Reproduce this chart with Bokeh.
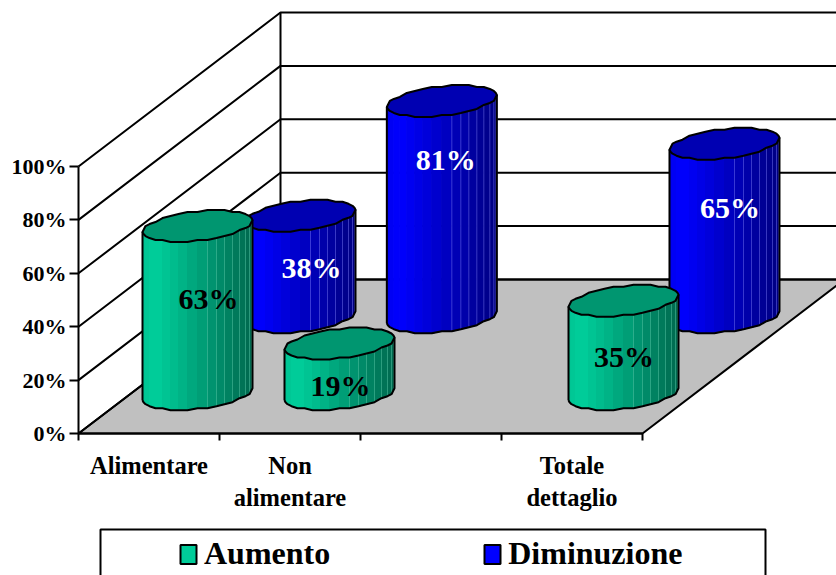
import math

from bokeh.core.properties import value
from bokeh.embed import file_html
from bokeh.models import FixedTicker, Legend, LegendItem, LinearAxis, Range1d
from bokeh.plotting import figure
from bokeh.resources import INLINE

# Survey results per retail sector; the third category slot is left empty
categories = ["Alimentare", "Non\nalimentare", "", "Totale\ndettaglio"]
aumento = [63, 19, None, 35]
diminuzione = [38, 81, None, 65]
percent_ticks = [0, 20, 40, 60, 80, 100]

# Pixel scale of the oblique 3-D box
PX_PER_CAT = 141.0
PX_PER_PCT = 2.67
LEFT_PX, FLOOR_PX = 78, 433
DEPTH_X, DEPTH_Y = 202.0, 154.0
WIDTH, HEIGHT = 836, 575

# Cylinder cross-section, expressed in pixels
RADIUS_X, SHEAR_X, RADIUS_Y = 51.0, 20.5, 15.5
N_AROUND = 36
SERIF = value("Liberation Serif")


def hex_scale(rgb, k):
    return "#%02x%02x%02x" % tuple(min(255, round(c * k)) for c in rgb)


def ellipse_pt(t):
    # Rounding keeps the slightly stepped edge of a faceted cylinder
    dx = RADIUS_X * math.cos(t) + SHEAR_X * math.sin(t)
    dy = RADIUS_Y * math.sin(t)
    return float(round(dx)), round(dy / 2.0) * 2.0


def brightness(f):
    if f < 0.12:
        return 0.93 + 0.07 * f / 0.12
    return 1.0 - 0.50 * (f - 0.12) / 0.88


def slot_centre(i, shift_px, drift_px):
    return i + 0.5 + (shift_px + drift_px * i) / PX_PER_CAT


def cylinder(series, shift_px, drift_px, depth, rgb, top_k, seam_rgb, swatch_rgb):
    facet_x, facet_y, facet_c = [], [], []
    seam_x, seam_y = [], []
    top_x, top_y = [], []
    outline_x, outline_y = [], []
    t0 = math.atan2(SHEAR_X, RADIUS_X)
    for i, v in enumerate(series):
        if v is None:
            continue
        cx = slot_centre(i, shift_px, drift_px)
        base = depth * DEPTH_Y / PX_PER_PCT
        ring = [ellipse_pt(2 * math.pi * k / N_AROUND + t0) for k in range(N_AROUND)]
        half = N_AROUND // 2
        front = ring[half:] + ring[:1]
        xs_left = min(p[0] for p in ring)
        for a, b in zip(front[:-1], front[1:]):
            f = ((a[0] + b[0]) / 2 - xs_left) / (2 * (RADIUS_X ** 2 + SHEAR_X ** 2) ** 0.5)
            facet_x.append([cx + c[0] / PX_PER_CAT for c in (a, b, b, a)])
            facet_y.append([base + a[1] / PX_PER_PCT, base + b[1] / PX_PER_PCT,
                            base + v + b[1] / PX_PER_PCT, base + v + a[1] / PX_PER_PCT])
            facet_c.append(hex_scale(rgb, brightness(f)))
            if f > 0.6:
                seam_x.append([cx + a[0] / PX_PER_CAT] * 2)
                seam_y.append([base + a[1] / PX_PER_PCT, base + v + a[1] / PX_PER_PCT])
        top_x.append([cx + p[0] / PX_PER_CAT for p in ring])
        top_y.append([base + v + p[1] / PX_PER_PCT for p in ring])
        left_x, right_x = cx + front[0][0] / PX_PER_CAT, cx + front[-1][0] / PX_PER_CAT
        outline_x.append([cx + p[0] / PX_PER_CAT for p in front] + [right_x, left_x, left_x])
        outline_y.append([base + p[1] / PX_PER_PCT for p in front]
                         + [base + v + front[-1][1] / PX_PER_PCT, base + v + front[0][1] / PX_PER_PCT,
                            base + front[0][1] / PX_PER_PCT])
    p.patches(facet_x, facet_y, fill_color=facet_c, line_color=facet_c, line_width=1)
    p.multi_line(seam_x, seam_y, line_color=seam_rgb, line_alpha=0.45, line_width=1)
    p.multi_line(outline_x, outline_y, line_color="black", line_width=2)
    p.patches(top_x, top_y, fill_color=hex_scale(rgb, top_k), line_color="black", line_width=2)
    # Undrawn patch that only carries the legend swatch style
    blank = [math.nan] * 3
    return p.patches([blank], [blank], fill_color=swatch_rgb, line_color="black", line_width=2)


# The plot area fills the page; the axes sit inside it at fixed data locations
p = figure(width=WIDTH, height=HEIGHT, output_backend="svg", toolbar_location=None,
           x_range=Range1d(-LEFT_PX / PX_PER_CAT, (WIDTH - LEFT_PX) / PX_PER_CAT),
           y_range=Range1d(-(HEIGHT - FLOOR_PX) / PX_PER_PCT, FLOOR_PX / PX_PER_PCT),
           x_axis_type=None, y_axis_type=None,
           min_border_left=0, min_border_right=0, min_border_top=0, min_border_bottom=0)
p.grid.visible = False
p.outline_line_color = None
p.background_fill_color = "white"

cat_end = len(categories)
shift_x = DEPTH_X / PX_PER_CAT
shift_y = DEPTH_Y / PX_PER_PCT

# Floor of the box
p.patch([0, cat_end, cat_end + shift_x, shift_x], [0, 0, shift_y, shift_y],
        fill_color="#c0c0c0", line_color="black", line_width=2)

# Gridlines wrapping the side wall and back wall
for t in percent_ticks:
    p.line([0, shift_x, cat_end + shift_x], [t, t + shift_y, t + shift_y], line_color="black", line_width=2)
p.line([shift_x, shift_x], [shift_y, percent_ticks[-1] + shift_y], line_color="black", line_width=2)

# Back row first so the front row overlaps it
BLUE_ROW = (151.5, 0.33, 0.755)
GREEN_ROW = (48.5, 1.0, 0.255)
blue = cylinder(diminuzione, *BLUE_ROW, (0, 0, 255), 0.70, "#7f7fff", "#0000ff")
green = cylinder(aumento, *GREEN_ROW, (0, 208, 156), 0.72, "#60d0b0", "#00cc99")

# Value labels, nudged in pixels from the middle of each cylinder
label_nudges = {
    "aumento": [(11, -12), (1, 17), None, (0.5, 9)],
    "diminuzione": [(11, 1), (4, -50), None, (5.5, -23)],
}
for series, row, colour, key in (
    (diminuzione, BLUE_ROW, "white", "diminuzione"),
    (aumento, GREEN_ROW, "black", "aumento"),
):
    for i, v in enumerate(series):
        if v is None:
            continue
        nx, ny = label_nudges[key][i]
        p.text([slot_centre(i, row[0], row[1])], [row[2] * shift_y + v / 2], text=[f"{v}%"],
               x_offset=nx, y_offset=ny, text_align="center", text_baseline="middle",
               text_color=colour, text_font=SERIF, text_font_style="bold", text_font_size="30px")

# Percent axis on the front edge of the side wall
y_axis = LinearAxis(ticker=FixedTicker(ticks=percent_ticks), bounds=(0, 100), fixed_location=0,
                    major_label_overrides={t: f"{t}%" for t in percent_ticks},
                    major_label_text_font="Liberation Serif", major_label_text_font_style="bold",
                    major_label_text_font_size="22px", major_label_text_color="black",
                    major_label_standoff=3, major_tick_out=9, major_tick_in=0, minor_tick_out=0, minor_tick_in=0,
                    major_tick_line_width=2, axis_line_width=2, axis_line_color="black",
                    major_tick_line_color="black")
p.add_layout(y_axis, "left")

# Category axis: ticks at the slot boundaries, labels in the slot centres
mid = [i + 0.5 for i in range(cat_end)]
x_axis = LinearAxis(ticker=FixedTicker(ticks=mid, minor_ticks=list(range(cat_end + 1))), bounds=(0, cat_end),
                    fixed_location=0,
                    major_label_overrides=dict(zip(mid, categories)),
                    major_label_text_font="Liberation Serif", major_label_text_font_style="bold",
                    major_label_text_font_size="24.5px", major_label_text_color="black",
                    major_label_standoff=11, major_tick_out=0, major_tick_in=0,
                    minor_tick_out=7, minor_tick_in=0, minor_tick_line_width=2, minor_tick_line_color="black",
                    axis_line_width=2, axis_line_color="black")
p.add_layout(x_axis, "below")

# Legend frame under the chart, running past the page bottom
box_left, box_right = (100 - LEFT_PX) / PX_PER_CAT, (765 - LEFT_PX) / PX_PER_CAT
box_top, box_bottom = (FLOOR_PX - 529) / PX_PER_PCT, (FLOOR_PX - 590) / PX_PER_PCT
p.quad(left=[box_left], right=[box_right], top=[box_top], bottom=[box_bottom],
       fill_color="white", line_color="black", line_width=2)
legend = Legend(items=[LegendItem(label="Aumento", renderers=[green], index=0),
                       LegendItem(label="Diminuzione", renderers=[blue], index=0)],
                orientation="horizontal", location=(178, HEIGHT - 572),
                padding=0, margin=0, spacing=152, glyph_width=20, glyph_height=24, label_standoff=6,
                label_text_font="Liberation Serif", label_text_font_style="bold", label_text_font_size="32px",
                label_text_color="black", border_line_color=None, background_fill_alpha=0)
p.add_layout(legend, "center")

open("out.html", "w").write(file_html(p, INLINE))
